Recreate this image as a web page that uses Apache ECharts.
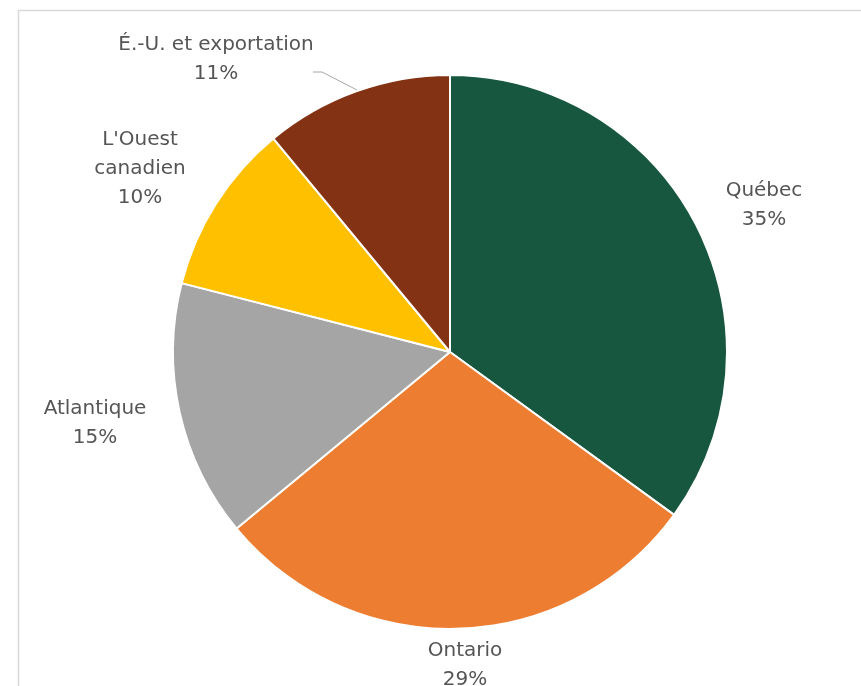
<!DOCTYPE html>
<html><head><meta charset="utf-8">
<script src="https://cdn.jsdelivr.net/npm/echarts@6/dist/echarts.min.js"></script>
<style>html,body{margin:0;padding:0;background:#fff}#c{width:861px;height:686px}</style>
</head><body><div id="c"></div>
<script>
const categories = ["Québec", "Ontario", "Atlantique", "L'Ouest canadien", "É.-U. et exportation"];
const labelTexts = ["Québec", "Ontario", "Atlantique", "L'Ouest\ncanadien", "É.-U. et exportation"];
const values = [35, 29, 15, 10, 11];
const colors = ["#17563F", "#ED7D31", "#A5A5A5", "#FFC000", "#843214"];
// label anchor positions (styling)
const labelPos = [[764, 205], [465, 665], [95, 423], [140, 169], [216, 59]];

const chart = echarts.init(document.getElementById('c'));
chart.setOption({
  animation: false,
  graphic: [{type: 'rect', shape: {x: 18.5, y: 10.5, width: 900, height: 800},
    style: {fill: 'none', stroke: '#d9d9d9', lineWidth: 1.5}, silent: true}],
  series: [{
    type: 'pie',
    center: [450, 352],
    radius: 277,
    startAngle: 90,
    clockwise: true,
    data: categories.map((c, i) => ({
      name: c, value: values[i],
      itemStyle: {color: colors[i]},
      label: {formatter: labelTexts[i] + '\n' + values[i] + '%'},
      labelLine: {show: i === 4}
    })),
    itemStyle: {borderColor: '#fff', borderWidth: 2},
    label: {
      show: true, position: 'outside', color: '#555555',
      fontFamily: 'DejaVu Sans', fontSize: 20, lineHeight: 29, align: 'center'
    },
    labelLine: {lineStyle: {color: '#a6a6a6', width: 1}},
    labelLayout: function (p) {
      const i = p.dataIndex;
      const r = {x: labelPos[i][0], y: labelPos[i][1], align: 'center', verticalAlign: 'middle'};
      if (i === 4) r.labelLinePoints = [[357, 90], [322, 72], [313, 72]];
      return r;
    }
  }]
});
</script></body></html>
